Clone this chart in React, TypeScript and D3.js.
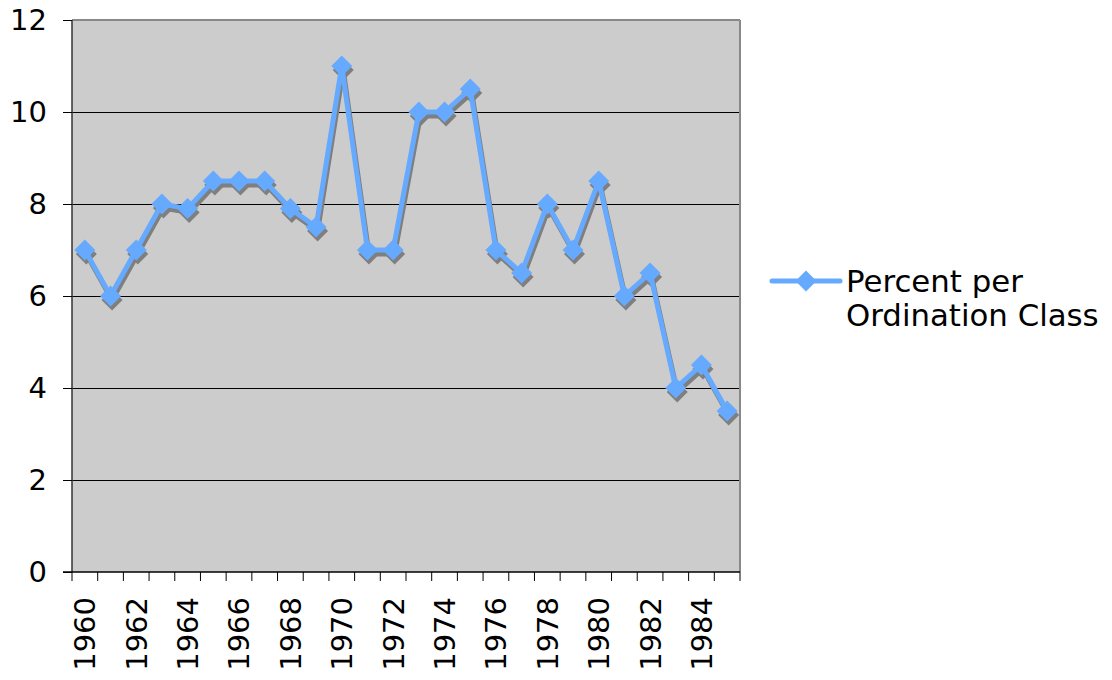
import React from "react";
import * as d3 from "d3";

const years = [1960,1961,1962,1963,1964,1965,1966,1967,1968,1969,1970,1971,1972,1973,1974,1975,1976,1977,1978,1979,1980,1981,1982,1983,1984,1985];
const values = [7,6,7,8,7.9,8.5,8.5,8.5,7.9,7.5,11,7,7,10,10,10.5,7,6.5,8,7,8.5,6,6.5,4,4.5,3.5];
const yTicks = [0,2,4,6,8,10,12];
const seriesName = ["Percent per", "Ordination Class"];

const W = 1112, H = 680;
const L = 72, R = 740, T = 20, B = 572;
const FONT = "'DejaVu Sans', Verdana, sans-serif";
const BLUE = "#66aaff";
const SHADOW = "#7f7f7f";

export default function App() {
  const x = d3.scaleBand<number>().domain(years).range([L, R]).padding(0);
  const bw = x.bandwidth();
  const xc = (yr: number) => (x(yr) as number) + bw / 2;
  const y = d3.scaleLinear().domain([0, 12]).range([B, T]);
  const line = d3.line<number>().x((_, i) => xc(years[i])).y((v) => y(v));
  const path = line(values) as string;
  const dm = 10.5;
  const diamond = (cx: number, cy: number) => `M${cx},${cy - dm}L${cx + dm},${cy}L${cx},${cy + dm}L${cx - dm},${cy}Z`;
  const boundaries = d3.range(years.length + 1).map((i) => L + i * bw);

  return (
    <svg width={W} height={H} style={{ position: "absolute", left: 0, top: 0, background: "#fff" }} fontFamily={FONT}>
      <rect x={L} y={T} width={R - L} height={B - T} fill="#cccccc" />
      {yTicks.filter((t) => t > 0 && t < 12).map((t) => (
        <line key={t} x1={L} x2={R} y1={y(t) + 0.5} y2={y(t) + 0.5} stroke="#000" strokeWidth={1.2} />
      ))}
      <line x1={L} x2={R} y1={T} y2={T} stroke="#888" strokeWidth={2} />
      <line x1={R} x2={R} y1={T} y2={B} stroke="#888" strokeWidth={2} />
      <line x1={L} x2={L} y1={T} y2={B} stroke="#333" strokeWidth={1.5} />
      <line x1={L - 9} x2={R} y1={B} y2={B} stroke="#000" strokeWidth={1.5} />
      {yTicks.map((t) => (
        <g key={t}>
          <line x1={L - 9} x2={L} y1={y(t) + 0.5} y2={y(t) + 0.5} stroke="#000" strokeWidth={1} />
          <text x={47} y={y(t)} dy="0.36em" textAnchor="end" fontSize={29} fill="#000">{t}</text>
        </g>
      ))}
      {boundaries.map((bx, i) => (
        <line key={i} x1={bx} x2={bx} y1={B} y2={B + 9} stroke="#000" strokeWidth={1} />
      ))}
      {years.filter((_, i) => i % 2 === 0).map((yr) => (
        <text key={yr} transform={`translate(${xc(yr)},597) rotate(-90)`} dy="0.36em" textAnchor="end" fontSize={29} fill="#000">{yr}</text>
      ))}
      <g transform="translate(1.5,4)">
        <path d={path} fill="none" stroke={SHADOW} strokeWidth={5} strokeLinejoin="round" />
        {values.map((v, i) => (
          <path key={i} d={diamond(xc(years[i]), y(v))} fill={SHADOW} />
        ))}
      </g>
      <path d={path} fill="none" stroke={BLUE} strokeWidth={5} strokeLinejoin="round" />
      {values.map((v, i) => (
        <path key={i} d={diamond(xc(years[i]), y(v))} fill={BLUE} />
      ))}
      <line x1={772} x2={840} y1={281} y2={281} stroke={BLUE} strokeWidth={5} strokeLinecap="round" />
      <path d={diamond(806, 281)} fill={BLUE} />
      <text x={846} y={292} fontSize={30.8} fill="#000">{seriesName[0]}</text>
      <text x={846} y={326} fontSize={30.8} fill="#000">{seriesName[1]}</text>
    </svg>
  );
}
